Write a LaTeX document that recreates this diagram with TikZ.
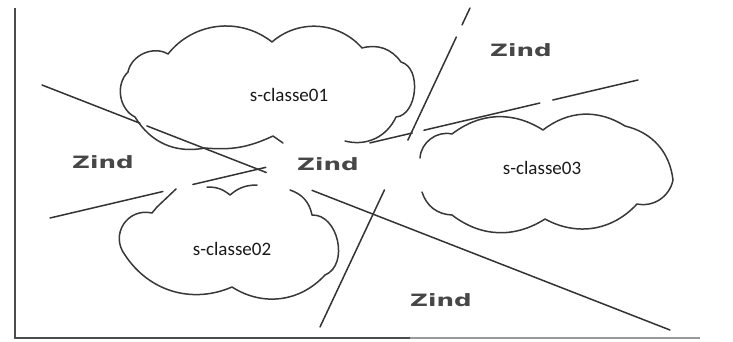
\documentclass[tikz,border=0pt]{standalone}
\usepackage{fontspec}
\setmainfont{Carlito}
\newfontfamily\zindfont{DejaVu Sans}
\usetikzlibrary{calc}

\begin{document}
\begin{tikzpicture}[x=1pt,y=1pt,
  ink/.style={draw=black!80, line width=1.5pt, line cap=round, line join=round},
  cloudline/.style={draw=black!78, line width=1.5pt, line cap=round, line join=round},
  axisline/.style={draw=black!70, line width=2pt},
  faintaxis/.style={draw=black!40, line width=1.8pt},
  zone/.style={font=\zindfont\bfseries\fontsize{17}{20}\selectfont, text=black!72, xscale=1.45, inner sep=0pt},
  classlabel/.style={font=\fontsize{19}{22}\selectfont, text=black!90, inner sep=0pt}]
\useasboundingbox (0,0) rectangle (733,-341);

% axes
\coordinate (ytop) at (15,-8);
\coordinate (origin) at (15,-338);
\coordinate (xmid) at (410,-338);
\coordinate (xend) at (700,-338);
\draw[axisline] (ytop) -- (origin) -- (xmid);
\draw[faintaxis] (xmid) -- (xend);

% separating lines
\coordinate (l1a) at (42,-85);  \coordinate (l1b) at (670,-330);
\coordinate (l2a) at (50,-218); \coordinate (l2b) at (638,-80);
\coordinate (l3a) at (470,-8);  \coordinate (l3b) at (320,-327);

\draw[ink] (l1a) -- ($(l1a)!0.156!(l1b)$);
\draw[ink] ($(l1a)!0.167!(l1b)$) -- ($(l1a)!0.357!(l1b)$);
\draw[ink] ($(l1a)!0.43!(l1b)$) -- (l1b);

\draw[ink] (l2a) -- ($(l2a)!0.192!(l2b)$);
\draw[ink] ($(l2a)!0.243!(l2b)$) -- ($(l2a)!0.367!(l2b)$);
\draw[ink] ($(l2a)!0.544!(l2b)$) -- ($(l2a)!0.616!(l2b)$);
\draw[ink] ($(l2a)!0.636!(l2b)$) -- ($(l2a)!0.833!(l2b)$);
\draw[ink] ($(l2a)!0.855!(l2b)$) -- (l2b);

\draw[ink] (l3a) -- ($(l3a)!0.053!(l3b)$);
\draw[ink] ($(l3a)!0.091!(l3b)$) -- ($(l3a)!0.414!(l3b)$);
\draw[ink] ($(l3a)!0.5705!(l3b)$) -- (l3b);

% cloud 01
\draw[cloudline] (205,-148) to[bend left=35] (135,-117)
  to[bend left=55] (128,-72) to[bend left=55] (168,-54)
  to[bend left=45] (272,-42) to[bend left=45] (362,-48)
  to[bend left=35] (401,-62) to[bend left=80] (396,-117)
  to[bend left=40] (345,-141);
\draw[cloudline] (283,-143) -- (273,-136) to[bend left=15] (205,-148);

% cloud 02
\draw[cloudline] (176,-189) -- (157,-207) -- (152,-213)
  to[bend right=70, looseness=1.3] (125,-255);
\draw[cloudline] (125,-255) to[bend right=40] (232,-287)
  to[bend right=40] (325,-275) to[bend right=80, looseness=1.1] (312,-215)
  to[bend right=30] (290,-190);
\draw[cloudline] (207,-187) to[bend left=20] (230,-195) to[bend left=20] (257,-185);

% cloud 03
\draw[cloudline] (420,-158) to[bend left=50] (452,-134)
  to[bend left=35] (543,-130) to[bend left=35] (625,-126)
  to[bend left=35] (673,-180) to[bend left=45] (637,-204)
  to[bend left=38] (545,-219) to[bend left=35] (452,-215)
  to[bend left=35] (422,-192);

% zone labels
\node[zone] (zleft) at (103,-162) {Zind};
\node[zone] (zcentre) at (328,-164) {Zind};
\node[zone] (ztop) at (521,-50) {Zind};
\node[zone] (zbottom) at (441,-300) {Zind};

% class labels
\node[classlabel] (c1) at (289,-95) {s-classe01};
\node[classlabel] (c2) at (232,-249) {s-classe02};
\node[classlabel] (c3) at (542,-168) {s-classe03};
\end{tikzpicture}
\end{document}
